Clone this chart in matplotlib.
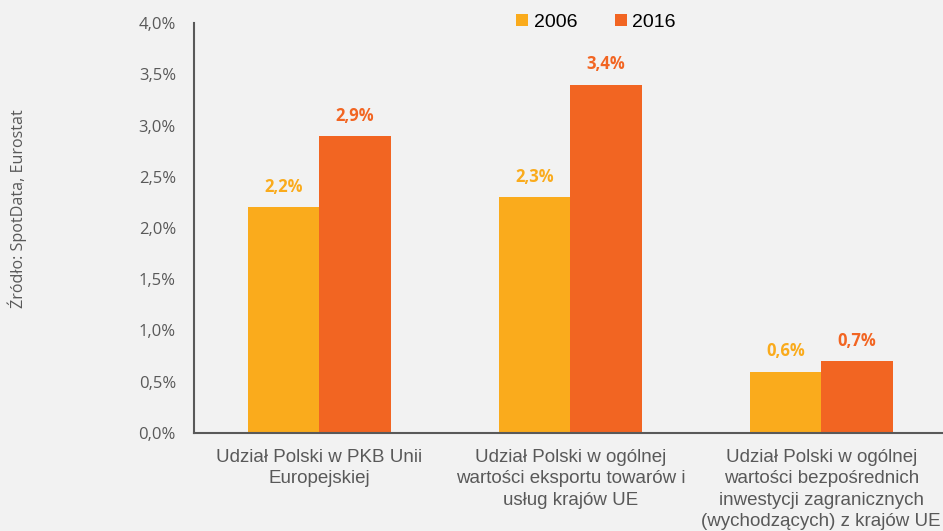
import matplotlib
matplotlib.use("Agg")
import matplotlib.pyplot as plt
import numpy as np

categories = ["Udział Polski w PKB Unii\nEuropejskiej",
              "Udział Polski w ogólnej\nwartości eksportu towarów i\nusług krajów UE",
              "Udział Polski w ogólnej\nwartości bezpośrednich\ninwestycji zagranicznych\n(wychodzących) z krajów UE"]
series_names = ["2006", "2016"]
values_2006 = [2.2, 2.3, 0.6]
values_2016 = [2.9, 3.4, 0.7]
yticks = [0.0, 0.5, 1.0, 1.5, 2.0, 2.5, 3.0, 3.5, 4.0]

c2006 = "#FAAB1C"
c2016 = "#F26522"
bg = "#F2F2F2"

fig = plt.figure(figsize=(9.43, 5.31), dpi=100, facecolor=bg)
ax = fig.add_axes([194/943, 1-433/531, 1-194/943 + 0.004, (433-23)/531])
ax.set_facecolor(bg)

x = np.arange(len(categories))
w = 0.285
b1 = ax.bar(x - w/2, values_2006, w, color=c2006, label=series_names[0])
b2 = ax.bar(x + w/2, values_2016, w, color=c2016, label=series_names[1])

for bars, vals, col in [(b1, values_2006, c2006), (b2, values_2016, c2016)]:
    for r, v in zip(bars, vals):
        ax.annotate(f"{v:.1f}%".replace(".", ","), (r.get_x() + r.get_width()/2, v),
                    xytext=(0, 8), textcoords="offset points", ha="center", va="bottom",
                    color=col, fontweight="bold", fontsize=12, family="Open Sans")

ax.set_xlim(-0.5, 2.5)
ax.set_ylim(0, 4.0)
ax.set_yticks(yticks)
ax.set_yticklabels([f"{t:.1f}%".replace(".", ",") for t in yticks], family="Open Sans",
                   fontsize=12, color="#595959")
ax.set_xticks(x)
ax.set_xticklabels(categories, family="Liberation Sans", fontsize=13.5, color="#595959",
                   linespacing=1.34)
ax.tick_params(axis="both", length=0)
ax.tick_params(axis="y", pad=13)
ax.tick_params(axis="x", pad=11.5)
for s in ["top", "right"]:
    ax.spines[s].set_visible(False)
for s in ["left", "bottom"]:
    ax.spines[s].set_color("#595959")
    ax.spines[s].set_linewidth(1.5)

leg = ax.legend(loc="upper center", bbox_to_anchor=(0.5 + 0.034, 1.065), ncol=2, frameon=False,
                prop={"family": "Liberation Sans", "size": 14}, handlelength=0.6, handleheight=0.6,
                handletextpad=0.3, columnspacing=1.95)

fig.text(17/943, 1-209/531, "Źródło: SpotData, Eurostat", rotation=90, ha="center", va="center",
         fontsize=11.6, color="#595959", family="Open Sans")

fig.savefig("out.png", dpi=100, facecolor=bg)
